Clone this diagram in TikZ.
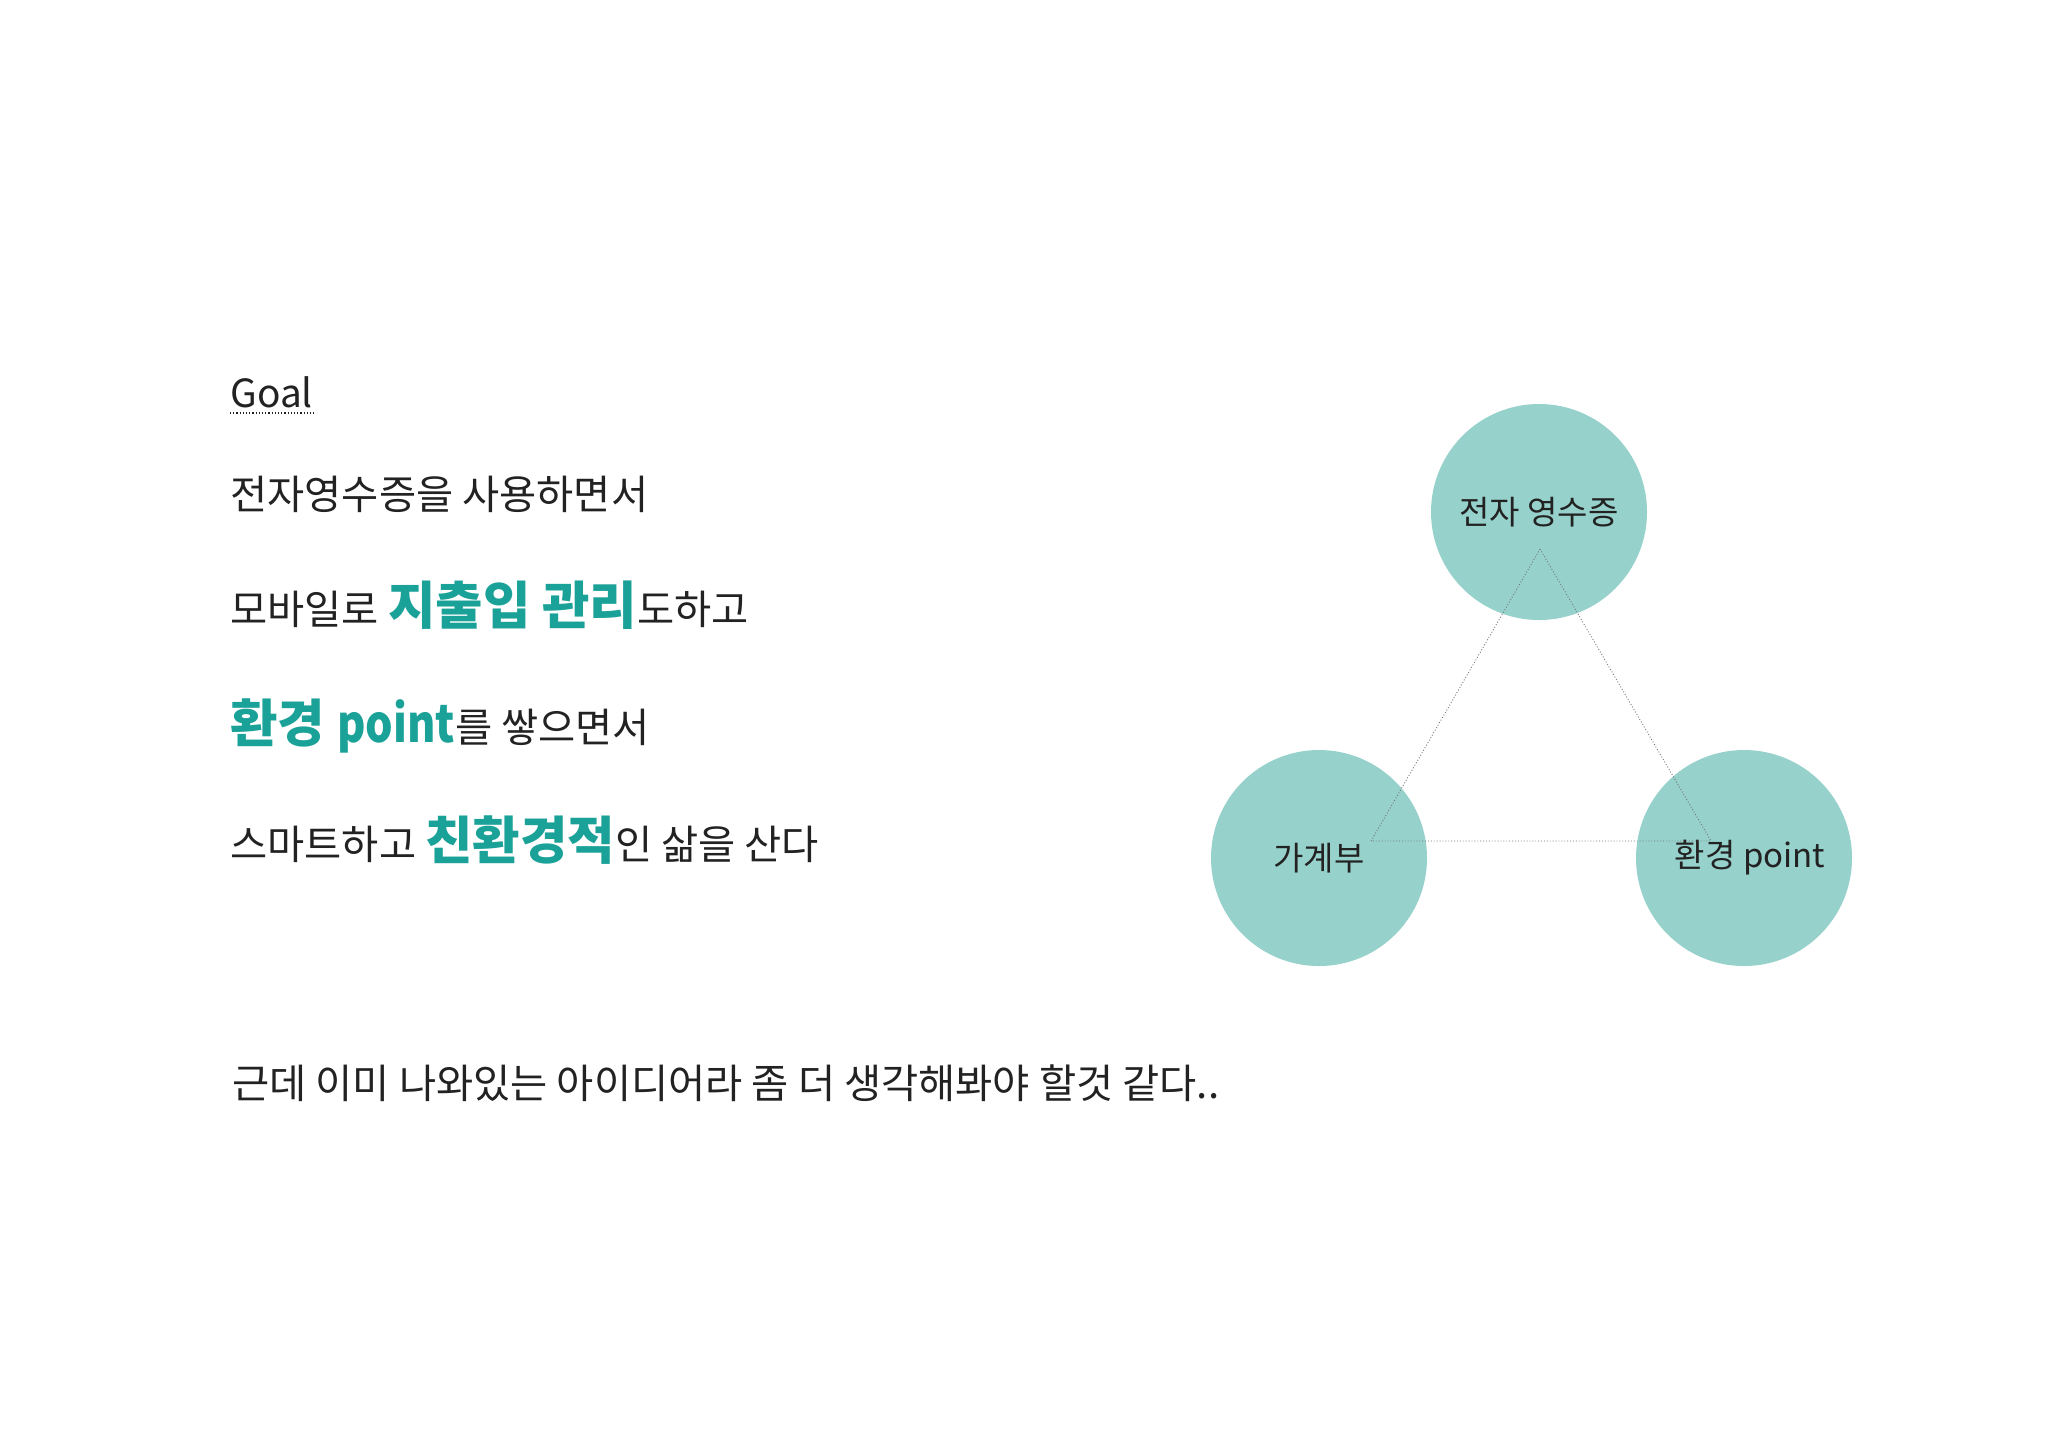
\documentclass[tikz,border=0pt]{standalone}
\usepackage{fontspec}
\setmainfont{Noto Sans CJK KR}
\newfontfamily\narrowlatin{Noto Sans CJK KR}[FakeStretch=0.84]
\definecolor{mint}{HTML}{96D1CB}
\definecolor{pointteal}{HTML}{1AA198}
\definecolor{ink}{HTML}{222222}
\newcommand\hiword[1]{{\color{pointteal}\fontsize{25.8}{30}\selectfont\bfseries #1}}

\begin{document}
\begin{tikzpicture}[x=0.5pt,y=-0.5pt,
    line/.style={anchor=base west,inner sep=0,text=ink,font=\fontsize{20.2}{24}\selectfont},
    ball/.style={circle,fill=mint,minimum size=108pt,inner sep=0,text=ink,font=\fontsize{16.5}{20}\selectfont},
    tri/.style={densely dotted,gray!90!black,line width=0.45pt}]
  \path[use as bounding box,fill=white] (0,0) rectangle (2048,1448);

  % goal text
  \node[line,font=\fontsize{19.4}{24}\selectfont] (goal) at (230,407) {Goal};
  \draw[densely dotted,ink,line width=0.6pt] ([yshift=-2.5pt]goal.south west) -- ([yshift=-2.5pt]goal.south east);
  \node[line] (l1) at (230,509) {전자영수증을 사용하면서};
  \node[line] (l2) at (230,624) {모바일로 \hiword{지출입 관리}도하고};
  \node[line] (l3) at (230,742) {\hiword{환경 {\narrowlatin point}}를 쌓으면서};
  \node[line] (l4) at (230,859) {스마트하고 \hiword{친환경적}인 삶을 산다};
  \node[line] (l5) at (232,1098) {근데 이미 나와있는 아이디어라 좀 더 생각해봐야 할것 같다..};

  % circles
  \node[ball] (receipt) at (1539,512) {전자 영수증};
  \node[ball] (ledger) at (1319,858) {가계부};
  \node[ball] (eco) at (1744,858) {\hspace{6pt}환경 point};

  \coordinate (apex) at (1540,549);
  \coordinate (lv) at (1371,841);
  \coordinate (rv) at (1711,841);
  \draw[tri] (apex) -- (lv) -- (rv) -- cycle;
\end{tikzpicture}
\end{document}
